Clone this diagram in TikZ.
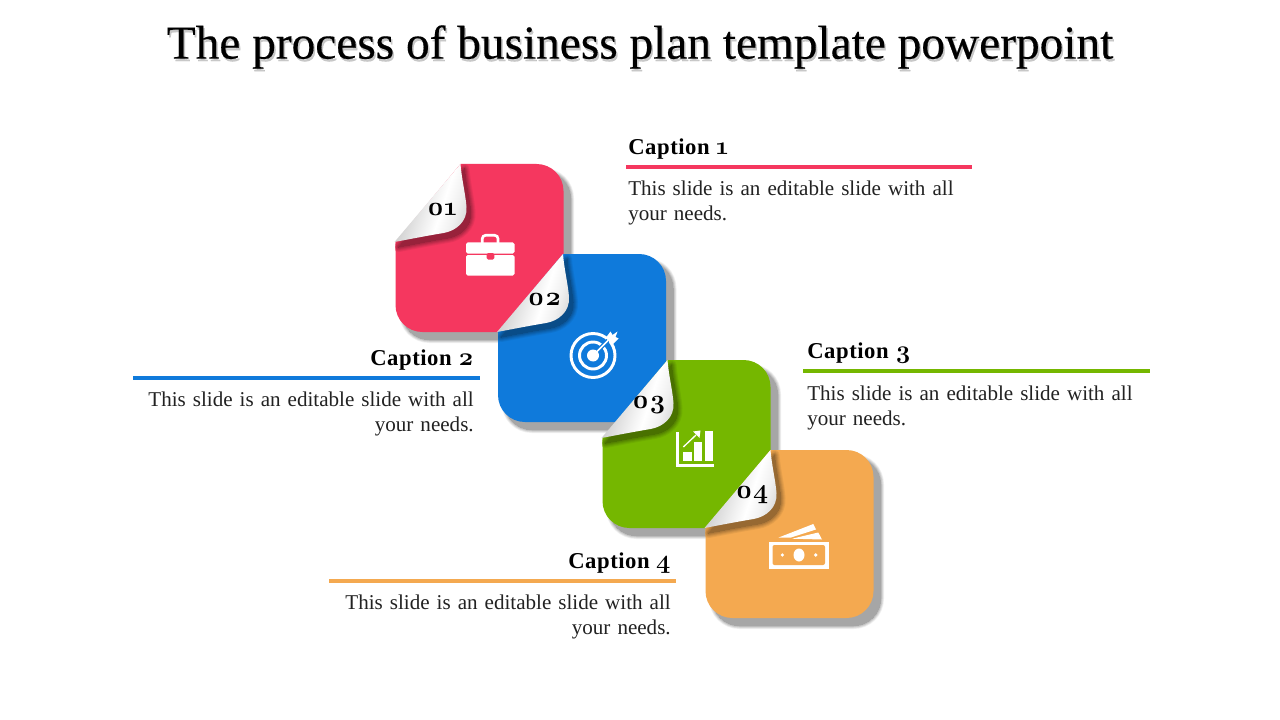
\documentclass[tikz,border=0pt]{standalone}
\usepackage{fontspec}
\setmainfont{Liberation Serif}
\newfontfamily\numfont[Numbers=OldStyle]{Latin Modern Roman}
\definecolor{cred}{HTML}{F5375F}
\definecolor{cblue}{HTML}{0F7ADB}
\definecolor{cgreen}{HTML}{75B700}
\definecolor{corange}{HTML}{F4A950}
\definecolor{ctext}{HTML}{222222}
\pgfdeclarehorizontalshading{curlshade}{100bp}{color(0bp)=(black!32); color(30bp)=(black!22); color(50bp)=(black!6); color(58bp)=(white); color(68bp)=(black!6); color(85bp)=(black!24); color(100bp)=(black!50)}
\tikzset{
  titletext/.style={font=\fontsize{35.5pt}{38pt}\selectfont\addfontfeature{FakeBold=0.35},inner sep=0pt,anchor=center},
  captitle/.style={font=\fontsize{17pt}{19pt}\selectfont\bfseries\addfontfeature{LetterSpace=2.5},inner sep=0pt},
  capnum/.style={},
  capbody/.style={font=\fontsize{15.8pt}{18.8pt}\selectfont,text=ctext,inner sep=0pt,align=left,text width=248pt},
  numtext/.style={font=\numfont\bfseries\fontsize{20pt}{20pt}\selectfont,inner sep=0pt},
  rulebar/.style={line width=3pt}
}
\newcommand{\capdigit}[1]{{\numfont\fontsize{19pt}{19pt}\selectfont #1}}
\newcommand{\cardpath}{(65,0) -- (141,0) .. controls (156,0) and (168,12) .. (168,27) -- (168,141) .. controls (168,156) and (156,168) .. (141,168) -- (27,168) .. controls (12,168) and (0,156) .. (0,141) -- (0,78) -- cycle}
\newcommand{\curlpath}{(65,0) .. controls (66,14) and (70,30) .. (71,43) .. controls (72,58) and (60,67) .. (48,69) .. controls (30,72) and (15,75) .. (-1,78) -- cycle}
% #1 x, #2 y, #3 colour, #4 number
\newcommand{\card}[4]{%
  \begin{scope}[shift={(#1,#2)}]
    \foreach \w/\k in {7/6,5.5/12,4/19,2.5/26,1/31,0/35}{
      \path[fill=black!\k,draw=black!\k,line width=\w*0.75pt,line join=round,shift={(7,7.5)}] \cardpath;
    }
    \fill[#3] \cardpath;
    \begin{scope}
      \clip \cardpath;
      \foreach \w/\k in {10/6,8/12,6/19,4/26,2/32,0/38}{
        \path[fill=#3!\the\numexpr100-\k\relax!black,draw=#3!\the\numexpr100-\k\relax!black,line width=\w*0.75pt,line join=round,shift={(4,5)}] \curlpath;
      }
    \end{scope}
    \path[shading=curlshade,shading angle=-18] \curlpath;
    \node[numtext] at (46.5,45) {#4};
  \end{scope}%
}
\begin{document}
\begin{tikzpicture}[x=0.75pt,y=-0.75pt]
\useasboundingbox (0,0) rectangle (1280,720);
\fill[white] (0,0) rectangle (1280,720);
\node[titletext,text=black!30,opacity=.7] at (641.5,49.5) {The process of business plan template powerpoint};
\node[titletext] (title) at (640,47) {The process of business plan template powerpoint};

\card{395.5}{164}{cred}{01}
\card{498}{254}{cblue}{02}
\card{602.5}{360}{cgreen}{03}
\card{705.5}{450}{corange}{04}

% briefcase
\draw[white,line width=2pt,rounded corners=2.5pt] (482.3,243) -- (482.3,235.3) -- (498,235.3) -- (498,243);
\fill[white,rounded corners=1.2pt] (466,242.5) -- (514.5,242.5) -- (514.5,253.5) -- (466,253.5) -- cycle;
\fill[white,rounded corners=1.2pt] (466,255) -- (514.5,255) -- (514.5,275.5) -- (466,275.5) -- cycle;
\fill[cred,rounded corners=1pt] (486.7,253) -- (494.3,253) -- (494.3,259.5) -- (486.7,259.5) -- cycle;

% target
\draw[white,line width=2.2pt] (593,355.5) circle[radius=22];
\draw[white,line width=2.2pt] (593,355.5) circle[radius=13.5];
\draw[cblue,line width=3pt] (593,355.5) -- (608,340.5);
\fill[white] (593,355.5) circle[radius=6];
\draw[white,line width=1.3pt] (593,355.5) -- (608,340.5);
\fill[white] (606,337.5) -- (610.5,331.5) -- (612.5,335) -- (617.5,331.5) -- (615.5,337) -- (618.5,338.5) -- (612,345) -- cycle;

% chart
\fill[white] (676,431.5) rectangle (679,466.5);
\fill[white] (676,463.5) rectangle (713.5,466.5);
\fill[white] (683.3,451.5) rectangle (691.5,461);
\fill[white] (694,442) rectangle (701.7,461);
\fill[white] (705,431) rectangle (713.3,461);
\draw[white,line width=1pt] (683.3,447) -- (696,435);
\fill[white] (700.5,430.5) -- (693,431.5) -- (699.5,438) -- cycle;

% money
\fill[white] (769,541.7) rectangle (828.5,568.5);
\fill[corange,rounded corners=1.5pt] (772.5,545) -- (825,545) -- (825,565) -- (772.5,565) -- cycle;
\fill[white] (799,555) ellipse[x radius=5.5,y radius=6.5];
\fill[white] (782.3,555) circle[radius=1.8];
\fill[white] (815.7,555) circle[radius=1.8];
\fill[white] (778.7,537.5) -- (813.3,524) -- (816,529.5) -- (791,537.5) -- cycle;
\fill[white] (792,538.7) -- (818.3,532.5) -- (822,539.5) -- cycle;

% caption 1
\node[captitle,anchor=base west] (c1) at (628,154.5) {Caption \capdigit{1}};
\draw[cred,rulebar] (626,167) -- (972,167);
\node[capbody,anchor=north west] (b1) at (628,181) {This slide is an editable slide with all\\your needs.};
% caption 2
\node[captitle,anchor=base east] (c2) at (474,365.5) {Caption \capdigit{2}};
\draw[cblue,rulebar] (133,378) -- (480,378);
\node[capbody,anchor=north east,align=right] (b2) at (474,392) {This slide is an editable slide with all\\your needs.};
% caption 3
\node[captitle,anchor=base west] (c3) at (807,358.5) {Caption \capdigit{3}};
\draw[cgreen,rulebar] (803,371) -- (1150,371);
\node[capbody,anchor=north west] (b3) at (807,386) {This slide is an editable slide with all\\your needs.};
% caption 4
\node[captitle,anchor=base east] (c4) at (671,568.5) {Caption \capdigit{4}};
\draw[corange,rulebar] (329,581) -- (676,581);
\node[capbody,anchor=north east,align=right] (b4) at (671,595) {This slide is an editable slide with all\\your needs.};
\end{tikzpicture}
\end{document}
